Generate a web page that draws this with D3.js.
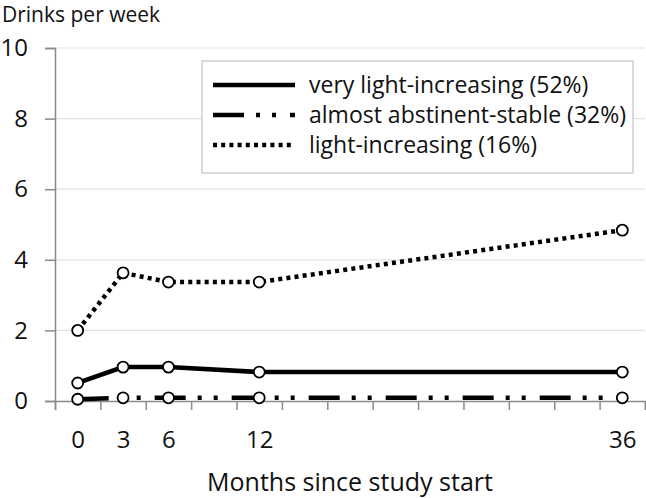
<!DOCTYPE html>
<html>
<head>
<meta charset="utf-8">
<script src="https://cdn.jsdelivr.net/npm/d3@7"></script>
<style>
  body { margin: 0; background: #fff; }
  text { font-family: "Open Sans", sans-serif; fill: #111; }
</style>
</head>
<body>
<div id="chart"></div>
<script>
// data
const months = [0, 3, 6, 12, 36];
const labelMonths = [0, 3, 6, 12, 36];
const veryLight = [0.51, 0.96, 0.96, 0.82, 0.82];
const abstinent = [0.05, 0.09, 0.09, 0.09, 0.09];
const lightInc = [2.0, 3.63, 3.37, 3.37, 4.84];
const yTicks = [0, 2, 4, 6, 8, 10];
const seriesNames = ["very light-increasing (52%)", "almost abstinent-stable (32%)", "light-increasing (16%)"];

const width = 646, height = 498;
const margin = { top: 48, right: 1, bottom: 97, left: 55 };

const svg = d3.select("#chart").append("svg")
  .attr("width", width)
  .attr("height", height);

const x = d3.scaleLinear().domain([-1.5, 37.5]).range([margin.left, width - margin.right]);
const y = d3.scaleLinear().domain([0, 10]).range([height - margin.bottom, margin.top]);

// line styles: solid, long dash + two dots, dotted
const styles = [
  { dash: null },
  { dash: "31,12,4,12,4,14" },
  { dash: "4,4.2" }
];
const series = [veryLight, abstinent, lightInc];

/** gridlines */
svg.append("g")
  .selectAll("line")
  .data(yTicks.filter(d => d > 0))
  .join("line")
  .attr("x1", margin.left)
  .attr("x2", width - margin.right)
  .attr("y1", d => y(d))
  .attr("y2", d => y(d))
  .attr("stroke", "#e2e2e2")
  .attr("stroke-width", 1.2);

/** y axis */
const yAxis = svg.append("g")
  .attr("transform", "translate(" + margin.left + ",0)")
  .call(d3.axisLeft(y).tickValues(yTicks).tickSize(10).tickPadding(17));
yAxis.selectAll("path, line").attr("stroke", "#8a8a8a").attr("stroke-width", 1.5);
yAxis.selectAll("text").style("font-size", "24px").attr("font-family", null);

/** x axis: tick marks between 3-month slots */
const xAxis = svg.append("g")
  .attr("transform", "translate(0," + y(0) + ")")
  .call(d3.axisBottom(x).tickValues(d3.range(-1.5, 38, 3)).tickSize(9).tickFormat(""));
xAxis.selectAll("path, line").attr("stroke", "#8a8a8a").attr("stroke-width", 1.5);

const xLabels = svg.append("g")
  .attr("transform", "translate(0," + y(0) + ")")
  .call(d3.axisBottom(x).tickValues(labelMonths).tickSize(0).tickPadding(30));
xLabels.select(".domain").remove();
xLabels.selectAll("text").style("font-size", "24px").attr("font-family", null);

/** axis titles */
svg.append("text")
  .attr("x", 2)
  .attr("y", 22)
  .style("font-size", "21px")
  .text("Drinks per week");

svg.append("text")
  .attr("x", (margin.left + width - margin.right) / 2)
  .attr("y", 491)
  .attr("text-anchor", "middle")
  .style("font-size", "25px")
  .text("Months since study start");

/** lines */
const line = d3.line()
  .x((d, i) => x(months[i]))
  .y(d => y(d));

series.forEach((s, i) => {
  svg.append("path")
    .datum(s)
    .attr("d", line)
    .attr("fill", "none")
    .attr("stroke", "#000")
    .attr("stroke-width", 4.5)
    .attr("stroke-dasharray", styles[i].dash);
});

/** markers */
series.forEach(s => {
  svg.append("g")
    .selectAll("circle")
    .data(s)
    .join("circle")
    .attr("cx", (d, i) => x(months[i]))
    .attr("cy", d => y(d))
    .attr("r", 5.5)
    .attr("fill", "#fff")
    .attr("stroke", "#000")
    .attr("stroke-width", 1.8);
});

/** legend */
const legend = svg.append("g").attr("transform", "translate(202,61)");
legend.append("rect")
  .attr("width", 431)
  .attr("height", 112)
  .attr("fill", "#fff")
  .attr("stroke", "#c4c4c4")
  .attr("stroke-width", 1.2);

const rows = legend.selectAll("g.row")
  .data(seriesNames)
  .join("g")
  .attr("class", "row")
  .attr("transform", (d, i) => "translate(0," + (24 + i * 30) + ")");

rows.append("line")
  .attr("x1", 11)
  .attr("x2", 93)
  .attr("stroke", "#000")
  .attr("stroke-width", 4.5)
  .attr("stroke-dasharray", (d, i) => styles[i].dash);

rows.append("text")
  .attr("x", 107)
  .attr("dy", "0.35em")
  .style("font-size", "23px")
  .text(d => d);
</script>
</body>
</html>
